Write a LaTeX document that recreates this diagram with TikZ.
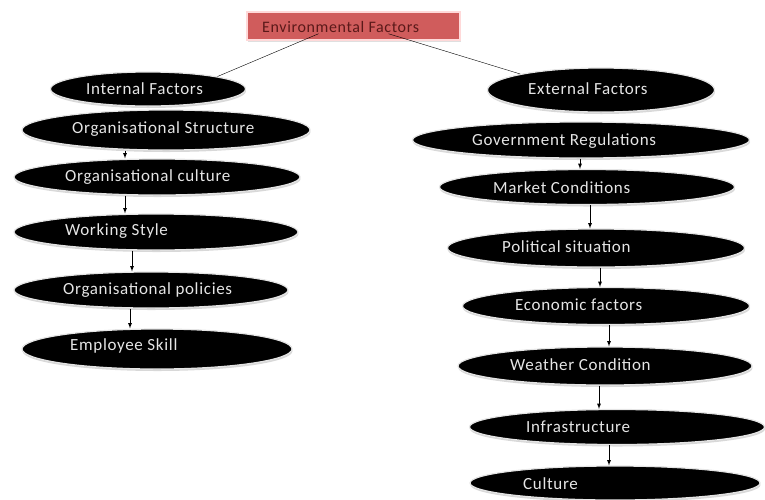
\documentclass[tikz,border=0pt]{standalone}
\usepackage{fontspec}
\setmainfont{Carlito}
\newfontfamily\factorfont[LetterSpace=4]{Carlito}
\usetikzlibrary{positioning, shapes, shadows, arrows}

\definecolor{titlered}{RGB}{208,92,92}
\definecolor{titletext}{RGB}{90,25,25}

\tikzset{
  factor/.style={ellipse, fill=black, draw=gray!20, line width=1.2pt, inner sep=0pt,
    drop shadow={shadow xshift=0.5pt, shadow yshift=-2pt, fill=gray!60}},
  ftext/.style={anchor=west, text=white!90!black, font=\factorfont\fontsize{17}{19}\selectfont, inner sep=0pt},
  arr/.style={-latex, black, line width=0.8pt},
}

\begin{document}
\begin{tikzpicture}[x=1pt, y=-1pt]
  \useasboundingbox (0,0) rectangle (765,499);

  % title
  \node[rectangle, fill=titlered, draw=red!15, line width=1.5pt, minimum width=213pt, minimum height=28pt,
        drop shadow={shadow xshift=1pt, shadow yshift=-2pt, fill=gray!50}] (env) at (353.5,26) {};
  \node[anchor=west, text=titletext, font=\factorfont\fontsize{16}{18}\selectfont, inner sep=0pt] (env-t) at (262,27) {Environmental Factors};

  % internal side
  \node[factor, minimum width=195pt, minimum height=34pt] (int) at (148,89) {};
  \node[ftext] (int-t) at (86,89) {Internal Factors};
  \node[factor, minimum width=288pt, minimum height=40pt] (struct) at (166,130) {};
  \node[ftext] (struct-t) at (72,129) {Organisational Structure};
  \node[factor, minimum width=286pt, minimum height=36pt] (oculture) at (157,177) {};
  \node[ftext] (oculture-t) at (65,177) {Organisational culture};
  \node[factor, minimum width=284pt, minimum height=36pt] (style) at (156,232) {};
  \node[ftext] (style-t) at (65,231) {Working Style};
  \node[factor, minimum width=274pt, minimum height=36pt] (policy) at (151,290) {};
  \node[ftext] (policy-t) at (63,290) {Organisational policies};
  \node[factor, minimum width=270pt, minimum height=40pt] (skill) at (157,349) {};
  \node[ftext] (skill-t) at (70,346) {Employee Skill};

  % external side
  \node[factor, minimum width=227pt, minimum height=44pt] (ext) at (601,90) {};
  \node[ftext] (ext-t) at (528,89) {External Factors};
  \node[factor, minimum width=337pt, minimum height=36pt] (gov) at (581,140) {};
  \node[ftext] (gov-t) at (472,141) {Government Regulations};
  \node[factor, minimum width=295pt, minimum height=35pt] (market) at (587,187) {};
  \node[ftext] (market-t) at (493,188) {Market Conditions};
  \node[factor, minimum width=297pt, minimum height=38pt] (polit) at (596,248) {};
  \node[ftext] (polit-t) at (502,247) {Political situation};
  \node[factor, minimum width=287pt, minimum height=37pt] (econ) at (606,306) {};
  \node[ftext] (econ-t) at (515,305) {Economic factors};
  \node[factor, minimum width=294pt, minimum height=38pt] (weather) at (605,366) {};
  \node[ftext] (weather-t) at (510,365) {Weather Condition};
  \node[factor, minimum width=295pt, minimum height=35pt] (infra) at (617,427) {};
  \node[ftext] (infra-t) at (526,427) {Infrastructure};
  \node[factor, minimum width=290pt, minimum height=34pt] (culture) at (615,483) {};
  \node[ftext] (culture-t) at (523,484) {Culture};

  % links from the title
  \draw[thin] ([xshift=-35pt, yshift=7pt]env.south) -- (int.north east);
  \draw[thin] ([xshift=35pt, yshift=7pt]env.south) -- (ext.north west);

  % internal arrows
  \draw[arr] (struct.south -| 125,0) -- (oculture.north -| 125,0);
  \draw[arr] (oculture.south -| 125,0) -- (style.north -| 125,0);
  \draw[arr] (style.south -| 132,0) -- (policy.north -| 132,0);
  \draw[arr] (policy.south -| 130,0) -- (skill.north -| 130,0);

  % external arrows
  \draw[arr] (gov.south -| 580,0) -- (market.north -| 580,0);
  \draw[arr] (market.south -| 590,0) -- (polit.north -| 590,0);
  \draw[arr] (polit.south -| 600,0) -- (econ.north -| 600,0);
  \draw[arr] (econ.south -| 609,0) -- (weather.north -| 609,0);
  \draw[arr] (weather.south -| 599,0) -- (infra.north -| 599,0);
  \draw[arr] (infra.south -| 609,0) -- (culture.north -| 609,0);
\end{tikzpicture}
\end{document}
